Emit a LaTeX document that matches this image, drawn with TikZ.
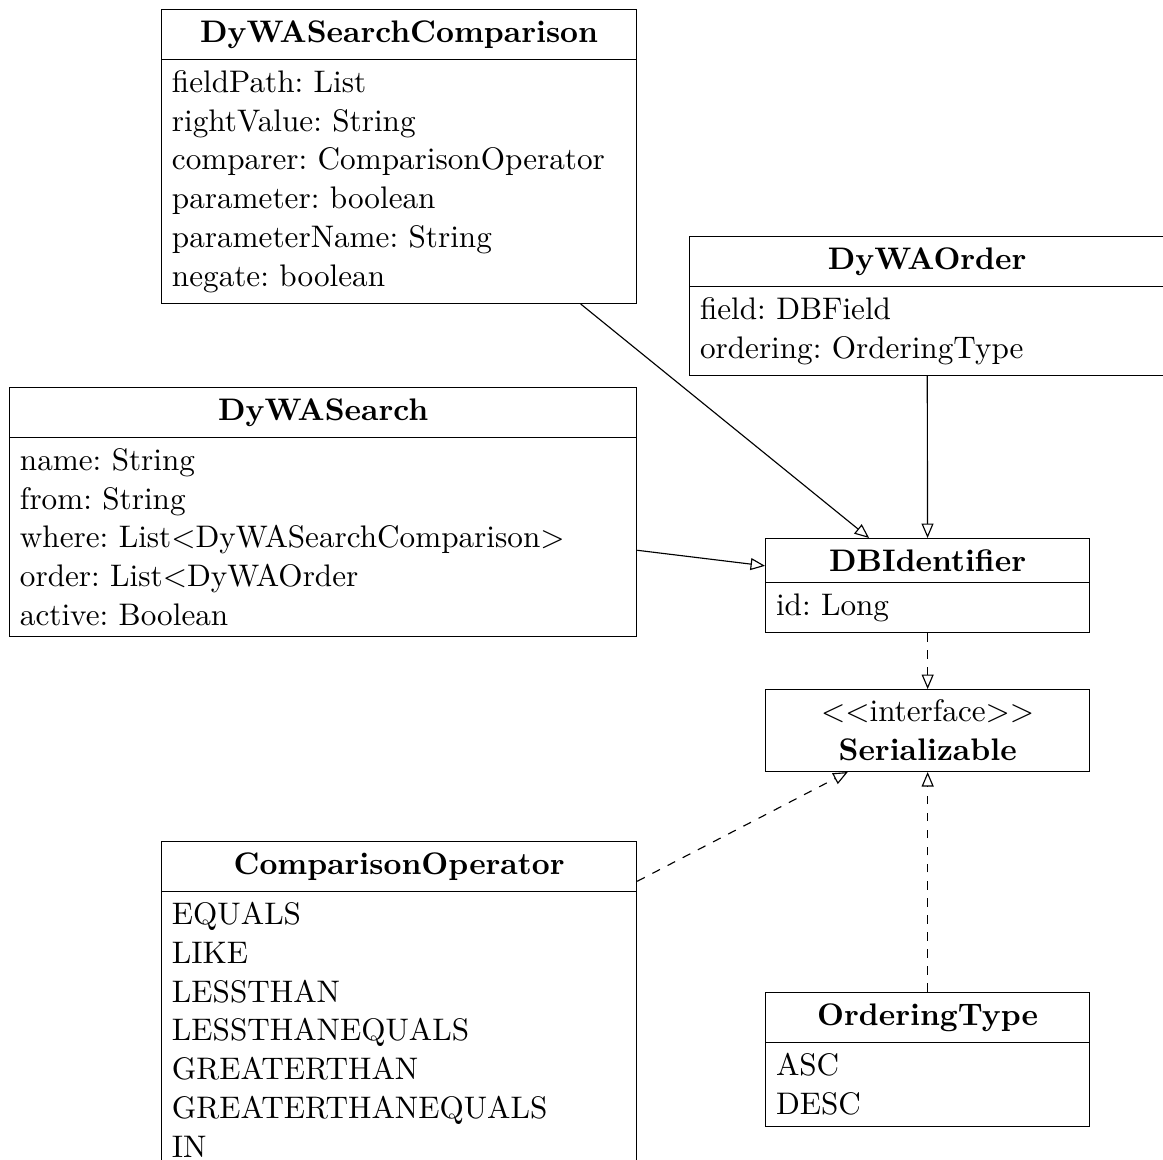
\documentclass[11pt,tikz,border=0pt]{standalone}
\usepackage{tikz}
\usetikzlibrary{arrows.meta,shapes.multipart}
\newcommand{\umltitle}[1]{\makebox[\hsize]{\textbf{#1}}}

\begin{document}
\frenchspacing
\begin{tikzpicture}[>=Latex,
  umlclass/.style={draw,rectangle split,rectangle split parts=2,text width=#1,align=left,anchor=north west},
  umliface/.style={draw,text width=#1,align=center,anchor=north west},
  inherit/.style={-{Triangle[open,angle=45:5.5pt]}},
  realize/.style={dashed,-{Triangle[open,angle=45:5.5pt]}}]
\useasboundingbox (0,0) rectangle (14.352,-14.315);
% classes
\node[umlclass=159.5pt] (comparison) at (1.987,-0.111) {\umltitle{DyWASearchComparison}
  \nodepart{second}fieldPath: List\\ rightValue: String\\ comparer: ComparisonOperator\\
  parameter: boolean\\ parameterName: String\\ negate: boolean};
\node[umlclass=159.5pt] (order) at (8.503,-2.912) {\umltitle{DyWAOrder}
  \nodepart{second}field: DBField\\ ordering: OrderingType};
\node[umlclass=212.9pt] (search) at (0.111,-4.776) {\umltitle{DyWASearch}
  \nodepart{second}name: String\\ from: String\\ where: List$<$DyWASearchComparison$>$\\
  order: List$<$DyWAOrder\\ active: Boolean};
\node[umlclass=106.5pt] (dbid) at (9.441,-6.639) {\umltitle{DBIdentifier}
  \nodepart{second}id: Long};
\node[umliface=106.5pt] (serial) at (9.441,-8.503) {$<<$interface$>>$\\ \textbf{Serializable}};
\node[umlclass=159.5pt] (compop) at (1.987,-10.379) {\umltitle{ComparisonOperator}
  \nodepart{second}EQUALS\\ LIKE\\ LESSTHAN\\ LESSTHANEQUALS\\ GREATERTHAN\\
  GREATERTHANEQUALS\\ IN};
\node[umlclass=106.5pt] (ordtype) at (9.441,-12.242) {\umltitle{OrderingType}
  \nodepart{second}ASC\\ DESC};
% relations
\draw[inherit] (comparison) -- (dbid);
\draw[inherit] (order) -- (dbid);
\draw[inherit] (search) -- (dbid);
\draw[realize] (dbid) -- (serial);
\draw[realize] (compop) -- (serial);
\draw[realize] (ordtype) -- (serial);
\end{tikzpicture}
\end{document}
